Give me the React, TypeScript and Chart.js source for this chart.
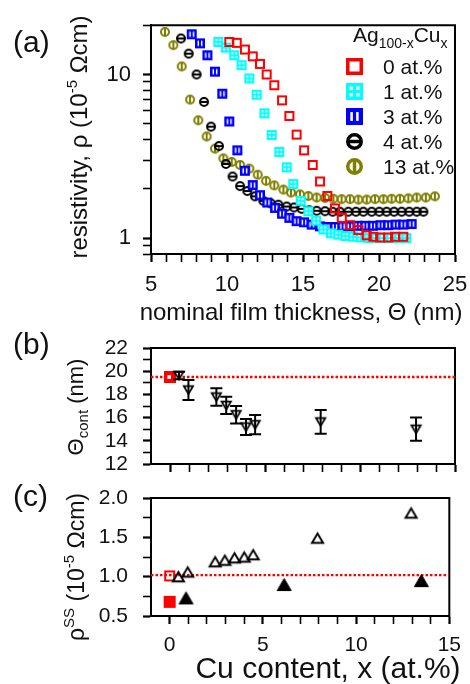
import React, { useEffect, useRef } from "react";
import { Chart, registerables } from "chart.js";
Chart.register(...registerables);

const FONT = '"Liberation Sans", Arial, Helvetica, sans-serif';
const W = 470;
const H = 684;
const TXT = "#111";

// ---------- Panel (a): resistivity vs nominal film thickness ----------
const thk0 = [10.15, 10.64, 11.18, 11.69, 12.17, 12.61, 13.11, 13.62, 14.1, 14.58, 15.07, 15.64, 16.12, 16.6, 17.1, 17.55, 18.09, 18.64, 19.19, 19.63, 20.07, 20.61, 21.05, 21.6];
const rho0 = [15.8, 15.6, 14.2, 12.9, 11.6, 10.0, 8.6, 6.95, 5.58, 4.29, 3.44, 2.8, 2.22, 1.81, 1.52, 1.33, 1.2, 1.12, 1.04, 1.02, 1.01, 1.01, 1.02, 1.02];

const thk1 = [9.43, 9.93, 10.48, 10.96, 11.47, 11.95, 12.46, 12.94, 13.44, 13.93, 14.36, 14.85, 15.35, 15.86, 16.34, 16.84, 17.32, 17.8, 18.3, 18.8, 19.3, 19.8, 20.3, 20.8, 21.3, 21.8];
const rho1 = [15.8, 14.6, 13.1, 11.4, 9.46, 7.52, 5.79, 4.27, 3.36, 2.71, 2.14, 1.69, 1.46, 1.28, 1.13, 1.07, 1.05, 1.03, 1.02, 1.01, 1.0, 1.0, 1.0, 1.0, 1.0, 1.0];

const thk3 = [7.68, 8.22, 8.71, 9.21, 9.69, 10.15, 10.68, 11.18, 11.69, 12.17, 12.65, 13.16, 13.62, 14.1, 14.58, 15.07, 15.57, 16.12, 16.6, 17.1, 17.6, 18.1, 18.6, 19.1, 19.6, 20.1, 20.6, 21.1, 21.6, 22.15];
const rho3 = [17.6, 15.5, 13.1, 10.4, 7.63, 5.16, 3.44, 2.58, 2.11, 1.83, 1.65, 1.53, 1.41, 1.33, 1.27, 1.25, 1.21, 1.18, 1.17, 1.17, 1.18, 1.18, 1.19, 1.19, 1.19, 1.2, 1.2, 1.21, 1.21, 1.22];

const thk4 = [6.97, 7.48, 8.0, 8.49, 8.95, 9.47, 9.93, 10.37, 10.86, 11.34, 11.84, 12.39, 12.89, 13.38, 13.93, 14.41, 14.91, 15.41, 15.9, 16.45, 16.95, 17.43, 17.98, 18.48, 18.97, 19.52, 20.02, 20.5, 20.99, 21.49, 21.99, 22.48, 22.92];
const rho4 = [16.6, 13.4, 10.0, 6.8, 4.8, 3.65, 2.84, 2.38, 2.08, 1.94, 1.8, 1.69, 1.63, 1.6, 1.56, 1.54, 1.51, 1.48, 1.47, 1.46, 1.45, 1.45, 1.45, 1.45, 1.45, 1.45, 1.45, 1.45, 1.45, 1.45, 1.45, 1.45, 1.45];

const thk13 = [5.92, 6.47, 7.02, 7.57, 8.11, 8.66, 9.21, 9.76, 10.31, 10.86, 11.47, 12.02, 12.57, 13.11, 13.71, 14.21, 14.8, 15.35, 15.9, 16.45, 17.0, 17.54, 18.09, 18.64, 19.19, 19.74, 20.29, 20.83, 21.38, 21.93, 22.48, 23.08, 23.68];
const rho13 = [18.2, 15.1, 11.2, 7.02, 5.25, 4.18, 3.52, 3.07, 2.92, 2.8, 2.66, 2.44, 2.24, 2.1, 1.98, 1.9, 1.85, 1.81, 1.77, 1.76, 1.74, 1.73, 1.73, 1.72, 1.72, 1.73, 1.73, 1.74, 1.74, 1.75, 1.77, 1.77, 1.8];

const seriesLabels = ["0 at.%", "1 at.%", "3 at.%", "4 at.%", "13 at.%"];
const xRangeA = [5, 25];
const yRangeA = [0.8, 20];
const xTicksA = [6, 7, 8, 9, 10, 11, 12, 13, 14, 15, 16, 17, 18, 19, 20, 21, 22, 23, 24, 25, 5];
const xLabelsA = [5, 10, 15, 20, 25];
const yTicksA = [0.8, 0.9, 1, 2, 3, 4, 5, 6, 7, 8, 9, 10, 20];
const yLabelsA = [1, 10];

// ---------- Panel (b): continuity thickness vs Cu content ----------
const cuX = [0.47, 0.97, 2.44, 2.96, 3.48, 4.0, 4.48, 7.93, 12.95];
const thetaCont = [19.63, 18.38, 17.78, 17.05, 16.25, 15.19, 15.39, 15.63, 15.0];
const thetaErr = [0.33, 0.86, 0.75, 0.75, 0.75, 0.69, 0.83, 1.03, 1.0];
const thetaAg = 19.5;
const xRangeBC = [-1, 15];
const yRangeB = [12, 22];
const yTicksB = [12, 13, 14, 15, 16, 17, 18, 19, 20, 21, 22];
const yLabelsB = [12, 14, 16, 18, 20, 22];

// ---------- Panel (c): steady-state resistivity vs Cu content ----------
const rhoSSOpen = [1.0, 1.06, 1.19, 1.21, 1.24, 1.25, 1.28, 1.49, 1.81];
const cuXFilled = [0.88, 6.14, 13.5];
const rhoSSFilled = [0.73, 0.9, 0.95];
const rhoSSAgOpen = 1.01;
const rhoSSAgFilled = 0.68;
const rhoSSRef = 1.02;
const yRangeC = [0.5, 2.0];
const xTicksBC = [0, 1, 2, 3, 4, 5, 6, 7, 8, 9, 10, 11, 12, 13, 14, 15];
const xLabelsC = [0, 5, 10, 15];
const yTicksC = [0.5, 0.75, 1.0, 1.25, 1.5, 1.75, 2.0];
const yLabelsC = [0.5, 1.0, 1.5, 2.0];

// ---------- helpers ----------
function makeMarker(kind: string, size: number, color: string, lw: number): HTMLCanvasElement {
  const S = Math.ceil(size) + 6;
  const cv = document.createElement("canvas");
  cv.width = S;
  cv.height = S;
  const g = cv.getContext("2d") as CanvasRenderingContext2D;
  const c = S / 2;
  const h = size / 2;
  g.strokeStyle = color;
  g.fillStyle = color;
  g.lineWidth = lw;
  if (kind === "openSquare") {
    g.strokeRect(c - h + lw / 2, c - h + lw / 2, size - lw, size - lw);
  } else if (kind === "filledSquare") {
    g.fillRect(c - h, c - h, size, size);
  } else if (kind === "innerSquare") {
    g.fillRect(c - h, c - h, size, size);
    g.fillStyle = "#fff";
    g.fillRect(c - size * 0.22, c - size * 0.15, size * 0.3, size * 0.3);
  } else if (kind === "dotSquare") {
    g.fillRect(c - h, c - h, size, size);
    g.fillStyle = "#fff";
    const d = size * 0.2;
    const o = size * 0.19;
    for (const sx of [-1, 1]) for (const sy of [-1, 1]) g.fillRect(c + sx * o - d / 2, c + sy * o - d / 2, d, d);
  } else if (kind === "barSquare") {
    g.fillRect(c - h, c - h, size, size);
    g.fillStyle = "#fff";
    const bw = size * 0.15;
    const bh = size * 0.52;
    const o = size * 0.17;
    for (const sx of [-1, 1]) g.fillRect(c + sx * o - bw / 2, c - bh / 2, bw, bh);
  } else if (kind === "theta" || kind === "phi") {
    const r = h - lw / 2;
    g.beginPath();
    g.arc(c, c, r, 0, Math.PI * 2);
    g.stroke();
    g.beginPath();
    if (kind === "theta") {
      g.moveTo(c - r, c);
      g.lineTo(c + r, c);
    } else {
      g.moveTo(c, c - r);
      g.lineTo(c, c + r);
    }
    g.stroke();
  } else if (kind === "triDown" || kind === "triUp" || kind === "triUpFilled") {
    const ht = size * 0.87;
    const hw = h - lw / 2;
    const hh = ht / 2 - lw / 2;
    g.lineJoin = "miter";
    g.beginPath();
    if (kind === "triDown") {
      g.moveTo(c - hw, c - hh);
      g.lineTo(c + hw, c - hh);
      g.lineTo(c, c + hh);
    } else {
      g.moveTo(c - hw, c + hh);
      g.lineTo(c + hw, c + hh);
      g.lineTo(c, c - hh);
    }
    g.closePath();
    if (kind === "triUpFilled") g.fill();
    g.stroke();
  }
  return cv;
}

type Seg = { t: string; s: number; dy?: number };
function drawRich(ctx: CanvasRenderingContext2D, segs: Seg[], x: number, y: number, rot: boolean, align: string) {
  ctx.save();
  ctx.translate(x, y);
  if (rot) ctx.rotate(-Math.PI / 2);
  let total = 0;
  const widths = segs.map((sg) => {
    ctx.font = `${sg.s}px ${FONT}`;
    const w = ctx.measureText(sg.t).width;
    total += w;
    return w;
  });
  let cx = align === "center" ? -total / 2 : align === "right" ? -total : 0;
  ctx.textBaseline = "alphabetic";
  ctx.textAlign = "left";
  ctx.fillStyle = TXT;
  segs.forEach((sg, i) => {
    ctx.font = `${sg.s}px ${FONT}`;
    ctx.fillText(sg.t, cx, sg.dy || 0);
    cx += widths[i];
  });
  ctx.restore();
}

function panelPlugin(id: string, extra: (ctx: CanvasRenderingContext2D) => void, err?: { x: number[]; y: number[]; e: number[] }) {
  return {
    id,
    afterDatasetsDraw(chart: any) {
      const ctx = chart.ctx as CanvasRenderingContext2D;
      if (err) {
        const xs = chart.scales.x;
        const ys = chart.scales.y;
        ctx.save();
        ctx.setLineDash([]);
        ctx.strokeStyle = "#000";
        ctx.lineWidth = 2;
        err.x.forEach((xv, i) => {
          const px = xs.getPixelForValue(xv);
          const y1 = ys.getPixelForValue(err.y[i] + err.e[i]);
          const y2 = ys.getPixelForValue(err.y[i] - err.e[i]);
          ctx.beginPath();
          ctx.moveTo(px, y1);
          ctx.lineTo(px, y2);
          ctx.moveTo(px - 6, y1);
          ctx.lineTo(px + 6, y1);
          ctx.moveTo(px - 6, y2);
          ctx.lineTo(px + 6, y2);
          ctx.stroke();
        });
        ctx.restore();
      }
      ctx.save();
      extra(ctx);
      ctx.restore();
    },
  };
}

const near = (v: number, list: number[]) => list.some((u) => Math.abs(u - v) < 1e-6);

function axisCfg(type: string, range: number[], ticks: number[], labels: number[], fmt: (v: number) => string, size: number, padding: number, showLabels: boolean) {
  return {
    type,
    min: range[0],
    max: range[1],
    afterBuildTicks: (s: any) => {
      s.ticks = ticks.map((v) => ({ value: v }));
    },
    ticks: {
      display: showLabels,
      padding,
      font: { family: FONT, size },
      color: TXT,
      maxRotation: 0,
      autoSkip: false,
      callback: (v: any) => (near(Number(v), labels) ? fmt(Number(v)) : ""),
    },
    grid: {
      display: true,
      drawOnChartArea: false,
      drawTicks: true,
      tickLength: 8,
      tickWidth: (c: any) => (c.tick && near(c.tick.value, labels) ? 2.2 : 1.6),
      tickColor: "#000",
      color: "#000",
    },
    border: { display: true, color: "#000", width: 2 },
  };
}

function baseOptions(area: { l: number; r: number; t: number; b: number }, xCfg: any, yCfg: any) {
  return {
    animation: false,
    responsive: false,
    maintainAspectRatio: false,
    events: [],
    layout: { padding: { left: 0, right: W - area.r, top: area.t, bottom: 0 } },
    plugins: { legend: { display: false }, tooltip: { enabled: false }, title: { display: false } },
    scales: {
      x: {
        ...xCfg,
        afterFit: (s: any) => {
          s.height = H - area.b;
        },
      },
      y: {
        ...yCfg,
        afterFit: (s: any) => {
          s.width = area.l;
        },
      },
    },
  };
}

// closed frame around the plot area, drawn as a line through the scales
function boxDataset(xr: number[], yr: number[]) {
  return {
    type: "line" as any,
    data: [
      { x: xr[0], y: yr[0] },
      { x: xr[1], y: yr[0] },
      { x: xr[1], y: yr[1] },
      { x: xr[0], y: yr[1] },
      { x: xr[0], y: yr[0] },
    ],
    borderColor: "#000",
    borderWidth: 2,
    borderJoinStyle: "miter",
    pointRadius: 0,
    showLine: true,
    fill: false,
    tension: 0,
    clip: false as any,
  };
}

const pts = (xs: number[], ys: number[]) => xs.map((x, i) => ({ x, y: ys[i] }));

export default function App() {
  const refA = useRef<HTMLCanvasElement>(null);
  const refB = useRef<HTMLCanvasElement>(null);
  const refC = useRef<HTMLCanvasElement>(null);

  useEffect(() => {
    const charts: Chart[] = [];
    const colors = ["#ff0000", "#00ffff", "#0000ff", "#000000", "#808000"];
    const kinds = ["openSquare", "dotSquare", "barSquare", "theta", "phi"];
    const dataMk = kinds.map((k, i) => makeMarker(k, 10, colors[i], 2));
    const legMk = kinds.map((k, i) => makeMarker(k, 17, colors[i], 3.5));
    const xsA = [thk0, thk1, thk3, thk4, thk13];
    const ysA = [rho0, rho1, rho3, rho4, rho13];
    const areaA = { l: 151, r: 455, t: 22, b: 254 };
    const areaB = { l: 151, r: 455, t: 348, b: 464 };
    const areaC = { l: 151, r: 455, t: 498, b: 616 };
    const intFmt = (v: number) => String(v);
    const decFmt = (v: number) => v.toFixed(1);

    // ---- (a)
    const optA: any = baseOptions(
      areaA,
      axisCfg("linear", xRangeA, xTicksA, xLabelsA, intFmt, 22, 10, true),
      axisCfg("logarithmic", yRangeA, yTicksA, yLabelsA, intFmt, 22, 12, true)
    );
    const extraA = (ctx: CanvasRenderingContext2D) => {
      drawRich(ctx, [{ t: "(a)", s: 30 }], 13, 52, false, "left");
      drawRich(ctx, [{ t: "nominal film thickness, \u0398 (nm)", s: 24 }], 301, 320, false, "center");
      drawRich(
        ctx,
        [
          { t: "resistivity, \u03c1 (10", s: 24 },
          { t: "-5", s: 15, dy: -10 },
          { t: " \u03a9cm)", s: 24 },
        ],
        87,
        137,
        true,
        "center"
      );
      drawRich(
        ctx,
        [
          { t: "Ag", s: 21 },
          { t: "100-x", s: 14, dy: 6 },
          { t: "Cu", s: 21 },
          { t: "x", s: 14, dy: 6 },
        ],
        353,
        42,
        false,
        "left"
      );
      seriesLabels.forEach((lab, i) => {
        const cy = 66 + 25 * i;
        const m = legMk[i];
        ctx.drawImage(m, Math.round(354 - m.width / 2), Math.round(cy - m.height / 2));
        drawRich(ctx, [{ t: lab, s: 21 }], 383, cy + 7.5, false, "left");
      });
    };
    const dsA: any[] = xsA.map((xs, i) => ({
      label: seriesLabels[i],
      data: pts(xs, ysA[i]),
      pointStyle: dataMk[i] as any,
      pointRadius: 5,
      showLine: false,
      clip: false as any,
    }));
    dsA.push(boxDataset(xRangeA, yRangeA));
    charts.push(
      new Chart(refA.current as HTMLCanvasElement, {
        type: "scatter",
        data: { datasets: dsA },
        options: optA,
        plugins: [panelPlugin("panelA", extraA)],
      })
    );

    // ---- (b)
    const optB: any = baseOptions(
      areaB,
      axisCfg("linear", xRangeBC, xTicksBC, xLabelsC, intFmt, 21, 9, false),
      axisCfg("linear", yRangeB, yTicksB, yLabelsB, intFmt, 21, 15, true)
    );
    const extraB = (ctx: CanvasRenderingContext2D) => {
      drawRich(ctx, [{ t: "(b)", s: 30 }], 13, 354, false, "left");
      drawRich(
        ctx,
        [
          { t: "\u0398", s: 22 },
          { t: "cont", s: 15, dy: 5 },
          { t: " (nm)", s: 22 },
        ],
        83,
        407,
        true,
        "center"
      );
    };
    charts.push(
      new Chart(refB.current as HTMLCanvasElement, {
        type: "scatter",
        data: {
          datasets: [
            {
              data: pts(cuX, thetaCont),
              pointStyle: makeMarker("triDown", 11, "#000", 1.8) as any,
              pointRadius: 5,
              showLine: false,
              clip: false as any,
            },
            {
              data: [{ x: 0, y: thetaAg }],
              pointStyle: makeMarker("innerSquare", 12, "#ff0000", 2) as any,
              pointRadius: 6,
              showLine: false,
              clip: false as any,
            },
            {
              type: "line" as any,
              data: [
                { x: xRangeBC[0], y: thetaAg },
                { x: xRangeBC[1], y: thetaAg },
              ],
              borderColor: "#ff0000",
              borderWidth: 2.4,
              borderDash: [2.5, 2],
              pointRadius: 0,
              showLine: true,
              fill: false,
            },
            boxDataset(xRangeBC, yRangeB) as any,
          ],
        },
        options: optB,
        plugins: [panelPlugin("panelB", extraB, { x: cuX, y: thetaCont, e: thetaErr })],
      })
    );

    // ---- (c)
    const optC: any = baseOptions(
      areaC,
      axisCfg("linear", xRangeBC, xTicksBC, xLabelsC, intFmt, 21, 9, true),
      axisCfg("linear", yRangeC, yTicksC, yLabelsC, decFmt, 21, 15, true)
    );
    const extraC = (ctx: CanvasRenderingContext2D) => {
      drawRich(ctx, [{ t: "(c)", s: 30 }], 13, 506, false, "left");
      drawRich(
        ctx,
        [
          { t: "\u03c1", s: 23 },
          { t: "SS", s: 15, dy: -10 },
          { t: " (10", s: 23 },
          { t: "-5", s: 15, dy: -10 },
          { t: " \u03a9cm)", s: 23 },
        ],
        84,
        567,
        true,
        "center"
      );
      drawRich(ctx, [{ t: "Cu content, x (at.%)", s: 30 }], 328, 678, false, "center");
    };
    charts.push(
      new Chart(refC.current as HTMLCanvasElement, {
        type: "scatter",
        data: {
          datasets: [
            {
              data: pts(cuX, rhoSSOpen),
              pointStyle: makeMarker("triUp", 13, "#000", 2) as any,
              pointRadius: 6,
              showLine: false,
              clip: false as any,
            },
            {
              data: pts(cuXFilled, rhoSSFilled),
              pointStyle: makeMarker("triUpFilled", 15, "#000", 1) as any,
              pointRadius: 7,
              showLine: false,
              clip: false as any,
            },
            {
              data: [{ x: 0, y: rhoSSAgOpen }],
              pointStyle: makeMarker("openSquare", 11, "#ff0000", 2) as any,
              pointRadius: 5,
              showLine: false,
              clip: false as any,
            },
            {
              data: [{ x: 0, y: rhoSSAgFilled }],
              pointStyle: makeMarker("filledSquare", 12, "#ff0000", 1) as any,
              pointRadius: 6,
              showLine: false,
              clip: false as any,
            },
            {
              type: "line" as any,
              data: [
                { x: xRangeBC[0], y: rhoSSRef },
                { x: xRangeBC[1], y: rhoSSRef },
              ],
              borderColor: "#ff0000",
              borderWidth: 2.4,
              borderDash: [2.5, 2],
              pointRadius: 0,
              showLine: true,
              fill: false,
            },
            boxDataset(xRangeBC, yRangeC) as any,
          ],
        },
        options: optC,
        plugins: [panelPlugin("panelC", extraC)],
      })
    );

    return () => {
      charts.forEach((c) => c.destroy());
    };
  }, []);

  const cs: React.CSSProperties = { position: "absolute", left: 0, top: 0, width: W, height: H };
  return (
    <div style={{ position: "fixed", left: 0, top: 0, width: W, height: H, background: "#fff" }}>
      <canvas ref={refA} width={W} height={H} style={cs} />
      <canvas ref={refB} width={W} height={H} style={cs} />
      <canvas ref={refC} width={W} height={H} style={cs} />
    </div>
  );
}
